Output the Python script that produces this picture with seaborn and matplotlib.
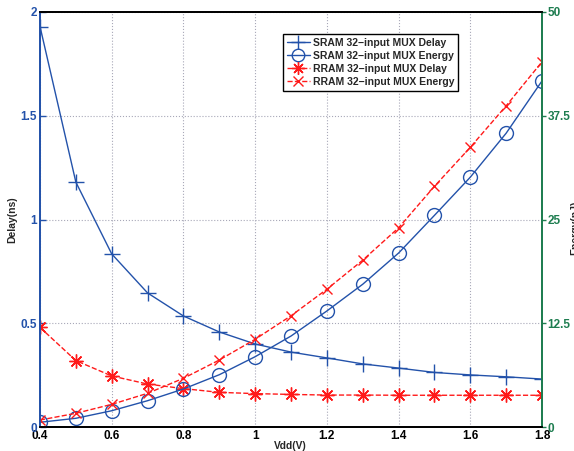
import matplotlib
matplotlib.use("Agg")
import matplotlib.pyplot as plt
import seaborn as sns
import pandas as pd
from matplotlib.lines import Line2D

# Supply voltage sweep (V)
vdd = [0.4, 0.5, 0.6, 0.7, 0.8, 0.9, 1.0, 1.1, 1.2, 1.3, 1.4, 1.5, 1.6, 1.7, 1.8]

# Delay (ns)
sram_delay = [1.93, 1.18, 0.834, 0.646, 0.535, 0.458, 0.40, 0.361, 0.333, 0.304,
              0.284, 0.263, 0.251, 0.242, 0.231]
rram_delay = [0.48, 0.32, 0.246, 0.207, 0.185, 0.167, 0.161, 0.157, 0.154, 0.154,
              0.153, 0.153, 0.153, 0.153, 0.153]

# Energy (nJ)
sram_energy = [0.57, 1.05, 1.96, 3.17, 4.58, 6.3, 8.47, 10.96, 13.98, 17.2,
               20.96, 25.5, 30.1, 35.4, 41.7]
rram_energy = [0.84, 1.65, 2.73, 4.06, 5.87, 8.07, 10.57, 13.4, 16.6, 20.1,
               24.0, 29.0, 33.7, 38.7, 44.0]

labels = ["SRAM 32\u2212input MUX Delay", "SRAM 32\u2212input MUX Energy",
          "RRAM 32\u2212input MUX Delay", "RRAM 32\u2212input MUX Energy"]

df = pd.DataFrame({"vdd": vdd, "sram_delay": sram_delay, "rram_delay": rram_delay,
                   "sram_energy": sram_energy, "rram_energy": rram_energy})

sns.set_theme(style="white")
plt.rcParams["font.family"] = ["Liberation Sans", "DejaVu Sans"]
plt.rcParams["font.weight"] = "bold"

BLUE = "#2352aa"
RED = "#ff1a1a"
GREEN = "#1e7d50"
ASTERISK = (8, 2, 0)

fig = plt.figure(figsize=(5.74, 4.51), dpi=100)
ax = fig.add_axes([0.0697, 0.0532, 0.8746, 0.9202])
ax2 = ax.twinx()

sns.lineplot(data=df, x="vdd", y="sram_delay", ax=ax, color=BLUE, lw=1.0,
             marker="+", markersize=11, markeredgewidth=1.0, markeredgecolor=BLUE)
sns.lineplot(data=df, x="vdd", y="rram_delay", ax=ax, color=RED, lw=1.0,
             linestyle="--", marker=ASTERISK, markersize=10, markeredgewidth=1.0,
             markeredgecolor=RED)
sns.lineplot(data=df, x="vdd", y="sram_energy", ax=ax2, color=BLUE, lw=1.0,
             marker="o", markersize=10, markerfacecolor="none",
             markeredgecolor=BLUE, markeredgewidth=1.0)
sns.lineplot(data=df, x="vdd", y="rram_energy", ax=ax2, color=RED, lw=1.0,
             linestyle="--", marker="x", markersize=7, markeredgewidth=1.0,
             markeredgecolor=RED)

ax.set_xlim(0.4, 1.8)
ax.set_ylim(0, 2)
ax2.set_ylim(0, 50)
ax.set_xticks([0.4, 0.6, 0.8, 1.0, 1.2, 1.4, 1.6, 1.8])
ax.set_xticklabels(["0.4", "0.6", "0.8", "1", "1.2", "1.4", "1.6", "1.8"])
ax.set_yticks([0, 0.5, 1, 1.5, 2])
ax.set_yticklabels(["0", "0.5", "1", "1.5", "2"])
ax2.set_yticks([0, 12.5, 25, 37.5, 50])
ax2.set_yticklabels(["0", "12.5", "25", "37.5", "50"])

ax.grid(True, linestyle=":", color="#a8a8b8", lw=0.8)
ax2.grid(False)

ax.tick_params(axis="x", direction="in", length=4, width=1, colors="black",
               labelsize=8.5, pad=2)
ax.tick_params(axis="y", direction="in", length=4, width=1, colors=BLUE,
               labelsize=8.5, pad=2)
ax2.tick_params(axis="y", direction="out", length=3, width=1, colors=GREEN,
                labelsize=8.5, pad=1)
for t in ax.get_xticklabels() + ax.get_yticklabels() + ax2.get_yticklabels():
    t.set_fontweight("bold")

for a in (ax, ax2):
    for s in a.spines.values():
        s.set_linewidth(1.3)
        s.set_color("black")
ax2.spines["left"].set_color(BLUE)
ax2.spines["right"].set_color(GREEN)
ax.spines["left"].set_color(BLUE)
ax.spines["right"].set_color(GREEN)

ax.set_xlabel("Vdd(V)", fontsize=7.3, fontweight="bold")
ax.xaxis.set_label_coords(0.498, -0.034)
ax.set_ylabel("Delay(ns)", fontsize=7.5, fontweight="bold")
ax.yaxis.set_label_coords(-0.046, 0.5)
ax2.set_ylabel("Energy(nJ)", fontsize=7.5, fontweight="bold", rotation=90)
ax2.yaxis.set_label_coords(1.056, 0.48)

handles = [
    Line2D([], [], color=BLUE, lw=1.0, marker="+", markersize=10),
    Line2D([], [], color=BLUE, lw=1.0, marker="o", markersize=9, markerfacecolor="none"),
    Line2D([], [], color=RED, lw=1.0, ls="--", marker=ASTERISK, markersize=9),
    Line2D([], [], color=RED, lw=1.0, ls="--", marker="x", markersize=7),
]
leg = ax2.legend(handles, labels, loc="upper left", bbox_to_anchor=(0.484, 0.947),
                 fontsize=7.5, frameon=True, fancybox=False, framealpha=1,
                 edgecolor="black", handlelength=2.2, handletextpad=0.3,
                 labelspacing=0.3, borderpad=0.35, borderaxespad=0)
leg.get_frame().set_linewidth(1.0)
for t in leg.get_texts():
    t.set_fontweight("bold")

fig.savefig("out.png", dpi=100)
